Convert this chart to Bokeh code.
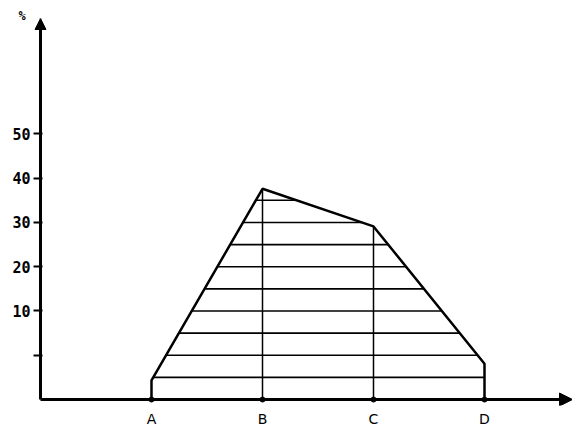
from bokeh.plotting import figure
from bokeh.models import Arrow, NormalHead, FixedTicker, Range1d, Title
from bokeh.embed import file_html
from bokeh.resources import INLINE

# data
categories = ["A", "B", "C", "D"]
positions = [1, 2, 3, 4]
values = [-5.7, 37.6, 29.1, -1.9]
baseline = -10
y_ticks = [0, 10, 20, 30, 40, 50]
y_tick_labels = ["", "10", "20", "30", "40", "50"]
hatch_levels = [-5, 0, 5, 10, 15, 20, 25, 30, 35]

W, H = 572, 429
X0, X1 = -0.0631, 4.7928
Y0, Y1 = -11.35, 76.07

p = figure(width=W, height=H, output_backend="svg", toolbar_location=None,
           min_border_left=33, min_border_right=0, min_border_top=18, min_border_bottom=22,
           x_range=Range1d(X0, X1), y_range=Range1d(Y0, Y1))
p.outline_line_color = None
p.grid.visible = False
p.background_fill_color = "white"

p.add_layout(Title(text="%", align="left", offset=-15, standoff=-8,
                   text_font="DejaVu Sans Mono", text_font_style="bold",
                   text_font_size="12px", text_color="black"), "above")

# y axis: ticks and labels from the axis, axis line drawn as arrow at x = 0
p.yaxis.ticker = FixedTicker(ticks=y_ticks)
p.yaxis.major_label_overrides = {t: l for t, l in zip(y_ticks, y_tick_labels)}
p.yaxis.axis_line_color = None
p.yaxis.major_tick_line_color = "black"
p.yaxis.major_tick_line_width = 2
p.yaxis.minor_tick_line_color = None
p.yaxis.major_tick_out = 0
p.yaxis.major_tick_in = 9
p.yaxis.major_label_text_font = "DejaVu Sans Mono"
p.yaxis.major_label_text_font_style = "bold"
p.yaxis.major_label_text_font_size = "15px"
p.yaxis.major_label_text_color = "black"
p.yaxis.major_label_standoff = 3

# x axis: category labels below, axis line drawn as arrow at the baseline
p.xaxis.ticker = FixedTicker(ticks=positions)
p.xaxis.major_label_overrides = {x: c for x, c in zip(positions, categories)}
p.xaxis.axis_line_color = None
p.xaxis.major_tick_line_color = None
p.xaxis.minor_tick_line_color = None
p.xaxis.major_tick_out = 0
p.xaxis.major_tick_in = 0
p.xaxis.major_label_standoff = 5
p.xaxis.major_label_text_font = "DejaVu Sans"
p.xaxis.major_label_text_font_size = "14px"
p.xaxis.major_label_text_color = "black"

p.add_layout(Arrow(end=NormalHead(size=13, fill_color="black", line_color="black"),
                   x_start=0, y_start=baseline, x_end=X1, y_end=baseline,
                   line_color="black", line_width=3))
p.add_layout(Arrow(end=NormalHead(size=11, fill_color="black", line_color="black"),
                   x_start=0, y_start=baseline, x_end=0, y_end=Y1,
                   line_color="black", line_width=3))
p.scatter(positions, [baseline] * len(positions), size=5, color="black")

# polygon outline
xs = [positions[0]] + positions + [positions[-1]]
ys = [baseline] + values + [baseline]
p.line(xs, ys, line_color="black", line_width=2.5)

# vertical lines at inner categories
p.segment(x0=positions[1:-1], y0=[baseline] * (len(positions) - 2),
          x1=positions[1:-1], y1=values[1:-1], line_color="black", line_width=1.5)

# horizontal hatch lines clipped to the polygon
def edge_x(level, pts):
    for (xa, ya), (xb, yb) in zip(pts[:-1], pts[1:]):
        lo, hi = min(ya, yb), max(ya, yb)
        if lo <= level <= hi and ya != yb:
            return xa + (level - ya) * (xb - xa) / (yb - ya)
    return None

left_pts = list(zip(positions[:2], values[:2]))
right_pts = list(zip(positions[1:], values[1:]))
hx0, hx1, hy = [], [], []
for lv in hatch_levels:
    xl = edge_x(lv, left_pts)
    xr = edge_x(lv, right_pts)
    hx0.append(positions[0] if xl is None else xl)
    hx1.append(positions[-1] if xr is None else xr)
    hy.append(lv)
p.segment(x0=hx0, y0=hy, x1=hx1, y1=hy, line_color="black", line_width=1.6)

open("out.html", "w").write(file_html(p, INLINE))
